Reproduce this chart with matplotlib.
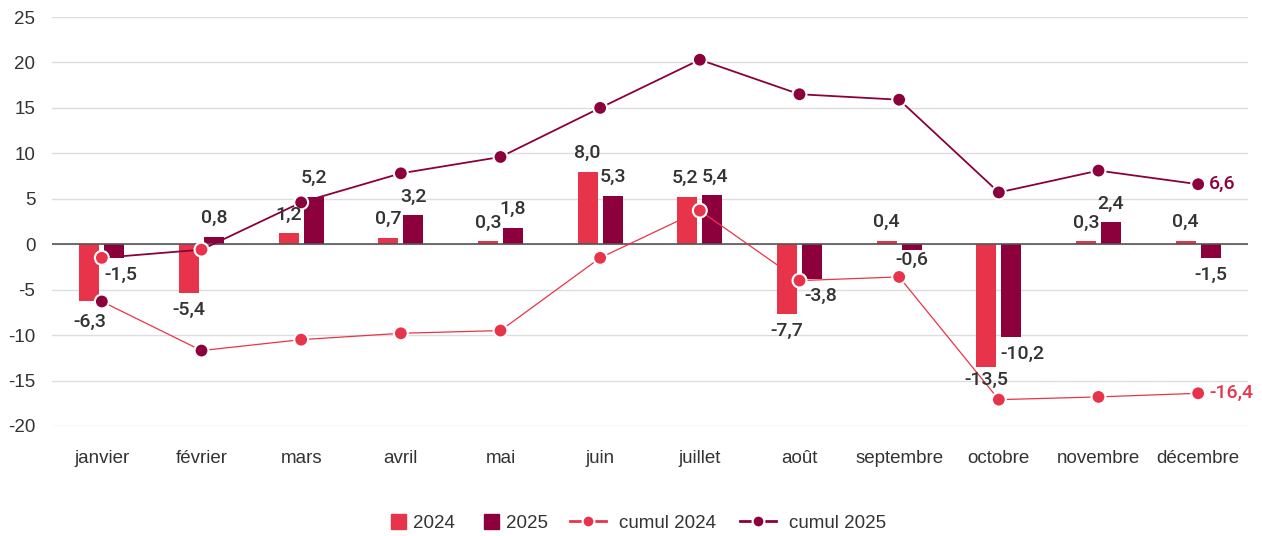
import matplotlib
matplotlib.use("Agg")
import numpy as np
from matplotlib import pyplot as plt
from matplotlib.lines import Line2D
from matplotlib.patches import Patch

months = ["janvier", "février", "mars", "avril", "mai", "juin", "juillet",
          "août", "septembre", "octobre", "novembre", "décembre"]
val_2024 = [-6.3, -5.4, 1.2, 0.7, 0.3, 8.0, 5.2, -7.7, 0.4, -13.5, 0.3, 0.4]
val_2025 = [-1.5, 0.8, 5.2, 3.2, 1.8, 5.3, 5.4, -3.8, -0.6, -10.2, 2.4, -1.5]
cumul_2024 = [-6.3, -11.7, -10.5, -9.8, -9.5, -1.5, 3.7, -4.0, -3.6, -17.1, -16.8, -16.4]
cumul_2025 = [-1.5, -0.6, 4.6, 7.8, 9.6, 15.0, 20.3, 16.5, 15.9, 5.7, 8.1, 6.6]
yticks = [-20, -15, -10, -5, 0, 5, 10, 15, 20, 25]

RED = "#e8344a"
DARK = "#8c003c"
TXT = "#333333"

plt.rcParams['font.family'] = ["Liberation Sans", 'DejaVu Sans']
LBL = dict(family=["Roboto", "DejaVu Sans"], fontweight="medium", fontsize=14)

fig = plt.figure(figsize=(12.62, 5.36), dpi=100)
ax = fig.add_axes([52 / 1262, 1 - 426 / 536, (1248 - 52) / 1262, (426 - 17) / 536])

x = np.arange(len(months))
w = 0.2
off = 0.125

ax.bar(x - off, val_2024, w, color=RED, zorder=2)
ax.bar(x + off, val_2025, w, color=DARK, zorder=2)

# cumulative lines (the first two markers swap colours in the original)
mk_2024 = [DARK, DARK] + [RED] * 10
mk_2025 = [RED, RED] + [DARK] * 10
ax.plot(x, cumul_2024, color=RED, lw=0.9, zorder=3)
ax.plot(x, cumul_2025, color=DARK, lw=1.3, zorder=3)
ax.scatter(x, cumul_2024, s=100, c=mk_2024, edgecolors="white", linewidths=1.5, zorder=4)
ax.scatter(x, cumul_2025, s=100, c=mk_2025, edgecolors="white", linewidths=1.5, zorder=4)


def fmt(v):
    return ("%.1f" % v).replace(".", ",")


# label nudges (points) where the original moved labels away from markers
nudge = {(0, 0): (0, -3), (1, 0): (5, 0), (1, 7): (6, 0), (1, 8): (0, 5),
         (1, 9): (8, 0), (0, 9): (0, 3), (0, 6): (-2, 0), (1, 6): (2, 0)}

for k, (xs, vals) in enumerate(((x - off, val_2024), (x + off, val_2025))):
    for i, (xi, v) in enumerate(zip(xs, vals)):
        dx, dy = nudge.get((k, i), (0, 0))
        oy = 13.5 if v >= 0 else -12
        ax.annotate(fmt(v), (xi, v), xytext=(dx, oy + dy), textcoords="offset points",
                    ha="center", va="center", color=TXT, zorder=5, **LBL)

ax.annotate(fmt(cumul_2025[-1]), (x[-1], cumul_2025[-1]), xytext=(8, 0),
            textcoords="offset points", ha="left", va="center", color=DARK, **LBL)
ax.annotate(fmt(cumul_2024[-1]), (x[-1], cumul_2024[-1]), xytext=(8, 0),
            textcoords="offset points", ha="left", va="center", color=RED, **LBL)

ax.set_xlim(-0.5, len(months) - 0.5)
ax.set_ylim(-20, 25)
ax.set_yticks(yticks)
ax.set_yticklabels([str(t) for t in yticks], fontsize=13.5, color=TXT)
ax.set_xticks(x)
ax.set_xticklabels(months, fontsize=13.5, color=TXT)
ax.tick_params(axis="both", length=0)
ax.tick_params(axis="y", pad=12)
ax.tick_params(axis="x", pad=17)
for s in ax.spines.values():
    s.set_visible(False)
ax.grid(axis="y", color="#dddddd", lw=1, zorder=0)
ax.set_axisbelow(True)
ax.axhline(0, color="#555555", lw=1.2, zorder=2.5)

ly = 1 - 523 / 536
bar_handles = [Patch(color=RED, label="2024"), Patch(color=DARK, label="2025")]
line_handles = [
    Line2D([], [], color=RED, lw=2, marker="o", ms=8.5, mec="white", mew=1.5, label="cumul 2024"),
    Line2D([], [], color=DARK, lw=2, marker="o", ms=8.5, mec="white", mew=1.5, label="cumul 2025"),
]
leg1 = fig.legend(handles=bar_handles, loc="center right", bbox_to_anchor=(548 / 1262, ly),
                  ncol=2, frameon=False, fontsize=13.5, handlelength=0.8, handleheight=0.8,
                  handletextpad=0.4, columnspacing=1.5, borderpad=0, borderaxespad=0)
leg2 = fig.legend(handles=line_handles, loc="center left", bbox_to_anchor=(570 / 1262, ly),
                  ncol=2, frameon=False, fontsize=13.5, handlelength=1.9,
                  handletextpad=0.7, columnspacing=1.3, borderpad=0, borderaxespad=0)
for leg in (leg1, leg2):
    for t in leg.get_texts():
        t.set_color(TXT)

fig.savefig("out.png", dpi=100)
